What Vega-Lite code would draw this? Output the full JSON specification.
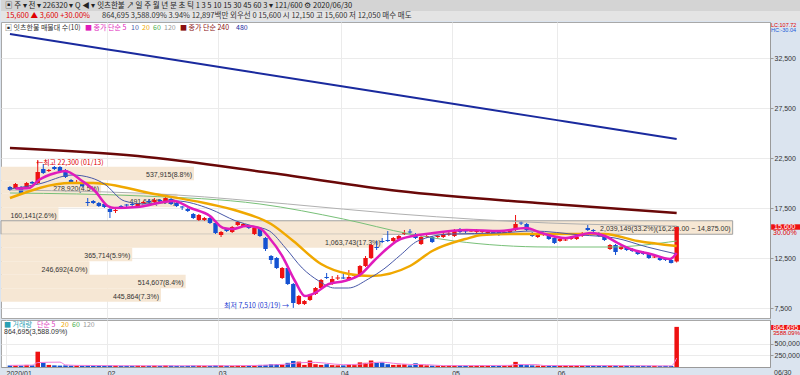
{
"$schema":"https://vega.github.io/schema/vega-lite/v6.json",
"background":"#dbe4ef",
"padding":0,
"autosize":{"type":"pad"},
"spacing":0,
"config":{"font":"Noto Sans CJK KR","view":{"fill":"white","stroke":"#a8a8a8"},
 "axis":{"labelFontSize":7,"labelColor":"#333","gridColor":"#ebebeb","domainColor":"#9a9a9a","tickColor":"#9a9a9a","labelFont":"Liberation Sans"},
 "axisY":{"labelOverlap":false}},
"datasets":{
"k":[
{"i":0,"o":19600,"h":19700,"l":19200,"c":19300,"v":30000},
{"i":1,"o":19500,"h":20000,"l":19400,"c":19900,"v":35000},
{"i":2,"o":19600,"h":19700,"l":18800,"c":18900,"v":30000},
{"i":3,"o":19500,"h":20100,"l":19400,"c":20000,"v":45000},
{"i":4,"o":20100,"h":20200,"l":19900,"c":19950,"v":35000},
{"i":5,"o":20000,"h":22300,"l":19900,"c":21100,"v":330000},
{"i":6,"o":21400,"h":21900,"l":20900,"c":21000,"v":90000},
{"i":7,"o":21200,"h":21400,"l":21100,"c":21300,"v":45000},
{"i":8,"o":21600,"h":21700,"l":21300,"c":21400,"v":35000},
{"i":9,"o":21600,"h":21700,"l":21100,"c":21200,"v":30000},
{"i":10,"o":21300,"h":21400,"l":20500,"c":20600,"v":35000},
{"i":11,"o":20300,"h":20400,"l":19900,"c":20000,"v":30000},
{"i":12,"o":20000,"h":20300,"l":19900,"c":20100,"v":30000},
{"i":13,"o":20000,"h":20100,"l":19600,"c":19700,"v":25000},
{"i":14,"o":18100,"h":18500,"l":17700,"c":18000,"v":35000},
{"i":15,"o":18200,"h":18300,"l":17900,"c":18000,"v":30000},
{"i":16,"o":18000,"h":18100,"l":17600,"c":17700,"v":30000},
{"i":17,"o":17900,"h":18000,"l":17500,"c":17600,"v":25000},
{"i":18,"o":17400,"h":17500,"l":16500,"c":17100,"v":35000},
{"i":19,"o":17200,"h":17500,"l":17000,"c":17300,"v":30000},
{"i":20,"o":17700,"h":17800,"l":17400,"c":17500,"v":25000},
{"i":21,"o":17850,"h":17900,"l":17600,"c":17750,"v":25000},
{"i":22,"o":17900,"h":18000,"l":17600,"c":17800,"v":25000},
{"i":23,"o":17700,"h":18000,"l":17600,"c":17900,"v":30000},
{"i":24,"o":18000,"h":18200,"l":17900,"c":18100,"v":25000},
{"i":25,"o":18200,"h":18400,"l":18000,"c":18100,"v":25000},
{"i":26,"o":18100,"h":18500,"l":18000,"c":18300,"v":30000},
{"i":27,"o":18300,"h":18400,"l":18100,"c":18200,"v":25000},
{"i":28,"o":18100,"h":18600,"l":18000,"c":18500,"v":35000},
{"i":29,"o":18400,"h":18500,"l":17800,"c":17900,"v":30000},
{"i":30,"o":18000,"h":18100,"l":17600,"c":17700,"v":25000},
{"i":31,"o":17650,"h":17700,"l":17300,"c":17550,"v":20000},
{"i":32,"o":17400,"h":17500,"l":17100,"c":17200,"v":25000},
{"i":33,"o":16900,"h":17000,"l":16400,"c":16500,"v":30000},
{"i":34,"o":16300,"h":16900,"l":16200,"c":16800,"v":30000},
{"i":35,"o":16300,"h":16600,"l":16200,"c":16500,"v":25000},
{"i":36,"o":16500,"h":16600,"l":15900,"c":16000,"v":25000},
{"i":37,"o":16000,"h":16100,"l":14900,"c":15000,"v":35000},
{"i":38,"o":14800,"h":15200,"l":14600,"c":15100,"v":35000},
{"i":39,"o":15400,"h":15500,"l":15100,"c":15200,"v":25000},
{"i":40,"o":15100,"h":15700,"l":15000,"c":15600,"v":25000},
{"i":41,"o":15800,"h":16200,"l":15700,"c":16100,"v":30000},
{"i":42,"o":15700,"h":16000,"l":15600,"c":15900,"v":25000},
{"i":43,"o":15700,"h":15800,"l":15400,"c":15500,"v":30000},
{"i":44,"o":14900,"h":15600,"l":14800,"c":15500,"v":35000},
{"i":45,"o":15400,"h":15500,"l":14600,"c":14700,"v":45000},
{"i":46,"o":14500,"h":14600,"l":13200,"c":13400,"v":45000},
{"i":47,"o":12700,"h":12800,"l":11900,"c":12300,"v":60000},
{"i":48,"o":12500,"h":12600,"l":11400,"c":11500,"v":60000},
{"i":49,"o":10500,"h":11600,"l":10400,"c":11500,"v":45000},
{"i":50,"o":11500,"h":11600,"l":9800,"c":9900,"v":90000},
{"i":51,"o":9900,"h":10000,"l":7510,"c":8000,"v":130000},
{"i":52,"o":7900,"h":8800,"l":7800,"c":8700,"v":115000},
{"i":53,"o":7900,"h":8300,"l":7800,"c":8200,"v":45000},
{"i":54,"o":8300,"h":8900,"l":8200,"c":8800,"v":140000},
{"i":55,"o":8900,"h":9600,"l":8800,"c":9500,"v":60000},
{"i":56,"o":9500,"h":10400,"l":9400,"c":10300,"v":45000},
{"i":57,"o":10600,"h":11000,"l":10400,"c":10500,"v":60000},
{"i":58,"o":9900,"h":10700,"l":9800,"c":10400,"v":40000},
{"i":59,"o":10450,"h":10800,"l":10300,"c":10550,"v":35000},
{"i":60,"o":10550,"h":11000,"l":10400,"c":10450,"v":35000},
{"i":61,"o":10300,"h":11300,"l":10200,"c":10600,"v":45000},
{"i":62,"o":10700,"h":10900,"l":10600,"c":10800,"v":40000},
{"i":63,"o":10700,"h":11800,"l":10600,"c":11700,"v":100000},
{"i":64,"o":11700,"h":12700,"l":11600,"c":12500,"v":90000},
{"i":65,"o":12500,"h":13900,"l":12400,"c":13800,"v":140000},
{"i":66,"o":13600,"h":14200,"l":13300,"c":13500,"v":90000},
{"i":67,"o":14200,"h":14500,"l":14000,"c":14100,"v":100000},
{"i":68,"o":14300,"h":15200,"l":14100,"c":14200,"v":60000},
{"i":69,"o":14200,"h":14600,"l":14100,"c":14500,"v":45000},
{"i":70,"o":14400,"h":14800,"l":14300,"c":14700,"v":50000},
{"i":71,"o":14900,"h":15300,"l":14800,"c":15000,"v":58000},
{"i":72,"o":15150,"h":15400,"l":14900,"c":15050,"v":35000},
{"i":73,"o":14900,"h":15000,"l":14400,"c":14500,"v":80000},
{"i":74,"o":13900,"h":14700,"l":13800,"c":14600,"v":50000},
{"i":75,"o":14600,"h":14900,"l":14500,"c":14700,"v":35000},
{"i":76,"o":14600,"h":14700,"l":14000,"c":14100,"v":30000},
{"i":77,"o":14600,"h":14800,"l":14500,"c":14700,"v":30000},
{"i":78,"o":14600,"h":15000,"l":14500,"c":14900,"v":25000},
{"i":79,"o":14850,"h":15100,"l":14700,"c":14950,"v":30000},
{"i":80,"o":14700,"h":15400,"l":14600,"c":15200,"v":35000},
{"i":81,"o":15400,"h":15500,"l":15000,"c":15100,"v":30000},
{"i":82,"o":15250,"h":15300,"l":15000,"c":15150,"v":30000},
{"i":83,"o":15150,"h":15400,"l":15100,"c":15250,"v":30000},
{"i":84,"o":15100,"h":15400,"l":15000,"c":15200,"v":30000},
{"i":85,"o":15100,"h":15300,"l":15000,"c":15200,"v":35000},
{"i":86,"o":15000,"h":15200,"l":14900,"c":15100,"v":30000},
{"i":87,"o":15200,"h":15300,"l":14800,"c":14900,"v":30000},
{"i":88,"o":15100,"h":15200,"l":14700,"c":14800,"v":25000},
{"i":89,"o":15000,"h":15200,"l":14900,"c":15100,"v":35000},
{"i":90,"o":15100,"h":15300,"l":15000,"c":15200,"v":40000},
{"i":91,"o":15300,"h":16800,"l":15200,"c":15900,"v":110000},
{"i":92,"o":16050,"h":16200,"l":15800,"c":15950,"v":45000},
{"i":93,"o":15900,"h":16000,"l":15200,"c":15300,"v":40000},
{"i":94,"o":15000,"h":15100,"l":14600,"c":14700,"v":35000},
{"i":95,"o":14600,"h":15000,"l":14500,"c":14900,"v":30000},
{"i":96,"o":14850,"h":15000,"l":14700,"c":14950,"v":30000},
{"i":97,"o":14900,"h":15000,"l":14300,"c":14400,"v":30000},
{"i":98,"o":14500,"h":14600,"l":13900,"c":14000,"v":35000},
{"i":99,"o":14200,"h":14500,"l":14100,"c":14400,"v":30000},
{"i":100,"o":14250,"h":14500,"l":14200,"c":14350,"v":35000},
{"i":101,"o":14400,"h":14600,"l":14300,"c":14500,"v":30000},
{"i":102,"o":14400,"h":14700,"l":14300,"c":14600,"v":30000},
{"i":103,"o":14700,"h":15100,"l":14600,"c":15000,"v":30000},
{"i":104,"o":15500,"h":15800,"l":15200,"c":15300,"v":35000},
{"i":105,"o":15300,"h":15400,"l":15100,"c":15200,"v":30000},
{"i":106,"o":15000,"h":15100,"l":14600,"c":14700,"v":30000},
{"i":107,"o":14600,"h":14700,"l":14200,"c":14300,"v":30000},
{"i":108,"o":13400,"h":13900,"l":13300,"c":13800,"v":35000},
{"i":109,"o":13800,"h":13900,"l":12800,"c":13100,"v":30000},
{"i":110,"o":13400,"h":13800,"l":13300,"c":13600,"v":25000},
{"i":111,"o":13600,"h":13700,"l":13200,"c":13300,"v":25000},
{"i":112,"o":13400,"h":13500,"l":13100,"c":13200,"v":25000},
{"i":113,"o":13200,"h":13300,"l":12800,"c":12900,"v":25000},
{"i":114,"o":13100,"h":13200,"l":12800,"c":12900,"v":25000},
{"i":115,"o":12900,"h":13000,"l":12400,"c":12500,"v":25000},
{"i":116,"o":12550,"h":12800,"l":12500,"c":12650,"v":25000},
{"i":117,"o":12500,"h":12600,"l":12200,"c":12300,"v":20000},
{"i":118,"o":12400,"h":12500,"l":12200,"c":12300,"v":25000},
{"i":119,"o":12300,"h":12400,"l":11950,"c":12000,"v":23444},
{"i":120,"o":12150,"h":15600,"l":12050,"c":15600,"v":864695}
],
"ma":[
{"s":"480","i":0,"v":34900},{"s":"480","i":20,"v":33150},{"s":"480","i":40,"v":31400},{"s":"480","i":60,"v":29650},{"s":"480","i":80,"v":27900},{"s":"480","i":100,"v":26150},{"s":"480","i":120,"v":24400},
{"s":"240","i":0,"v":23500},{"s":"240","i":23,"v":22700},{"s":"240","i":47,"v":21000},{"s":"240","i":70,"v":19200},{"s":"240","i":95,"v":18000},{"s":"240","i":120,"v":17000},
{"s":"120","i":0,"v":19300},{"s":"120","i":30,"v":18800},{"s":"120","i":50,"v":17900},{"s":"120","i":70,"v":16900},{"s":"120","i":97,"v":16000},{"s":"120","i":120,"v":15700},
{"s":"60","i":0,"v":19000},{"s":"60","i":24,"v":18700},{"s":"60","i":45,"v":17900},{"s":"60","i":60,"v":16400},{"s":"60","i":72,"v":14900},{"s":"60","i":80,"v":14200},{"s":"60","i":97,"v":13600},{"s":"60","i":108,"v":13600},{"s":"60","i":120,"v":14200},
{"s":"20","i":0,"v":18500},{"s":"20","i":11,"v":20000},{"s":"20","i":15,"v":20000},{"s":"20","i":26,"v":18900},{"s":"20","i":35,"v":18000},{"s":"20","i":41,"v":17200},{"s":"20","i":47,"v":15900},{"s":"20","i":51,"v":14200},{"s":"20","i":56,"v":11900},{"s":"20","i":61,"v":10900},{"s":"20","i":65,"v":10700},{"s":"20","i":72,"v":11700},{"s":"20","i":76,"v":13200},{"s":"20","i":82,"v":14400},{"s":"20","i":85,"v":14800},{"s":"20","i":91,"v":14900},{"s":"20","i":97,"v":14900},{"s":"20","i":107,"v":14900},{"s":"20","i":113,"v":14200},{"s":"20","i":120,"v":13700},
{"s":"10","i":0,"v":19400},{"s":"10","i":5.2,"v":19900},{"s":"10","i":11.2,"v":20800},{"s":"10","i":14.7,"v":20500},{"s":"10","i":17,"v":19900},{"s":"10","i":20.6,"v":18200},{"s":"10","i":24.2,"v":17900},{"s":"10","i":30,"v":18200},{"s":"10","i":36,"v":17400},{"s":"10","i":40.7,"v":16200},{"s":"10","i":43.7,"v":15700},{"s":"10","i":46.7,"v":15200},{"s":"10","i":49.6,"v":13500},{"s":"10","i":52.6,"v":11500},{"s":"10","i":55.6,"v":10200},{"s":"10","i":58.4,"v":9500},{"s":"10","i":60.9,"v":9500},{"s":"10","i":64.5,"v":10400},{"s":"10","i":67.3,"v":11400},{"s":"10","i":70.3,"v":12800},{"s":"10","i":73.4,"v":14200},{"s":"10","i":79.2,"v":14900},{"s":"10","i":88.1,"v":15000},{"s":"10","i":94,"v":15200},{"s":"10","i":102.8,"v":14800},{"s":"10","i":108.9,"v":14500},{"s":"10","i":114.7,"v":13600},{"s":"10","i":120,"v":12900},
{"s":"5","i":1,"v":19450},{"s":"5","i":3.4,"v":19500},{"s":"5","i":5.2,"v":20300},{"s":"5","i":8.2,"v":21000},{"s":"5","i":9.9,"v":21200},{"s":"5","i":13,"v":20200},{"s":"5","i":15.3,"v":19200},{"s":"5","i":17.6,"v":17700},{"s":"5","i":18.8,"v":17500},{"s":"5","i":22.9,"v":17600},{"s":"5","i":24.2,"v":17700},{"s":"5","i":27.7,"v":18100},{"s":"5","i":29.5,"v":18200},{"s":"5","i":32.5,"v":17500},{"s":"5","i":36,"v":16700},{"s":"5","i":38.4,"v":15500},{"s":"5","i":40.1,"v":15400},{"s":"5","i":42.5,"v":15700},{"s":"5","i":44.9,"v":15500},{"s":"5","i":46.7,"v":14500},{"s":"5","i":49,"v":12700},{"s":"5","i":51.3,"v":10200},{"s":"5","i":53.1,"v":8700},{"s":"5","i":54.9,"v":9000},{"s":"5","i":57.4,"v":9900},{"s":"5","i":60.2,"v":10200},{"s":"5","i":63.2,"v":10900},{"s":"5","i":65.5,"v":12200},{"s":"5","i":68,"v":13500},{"s":"5","i":70.3,"v":14400},{"s":"5","i":76.2,"v":15000},{"s":"5","i":82.2,"v":15300},{"s":"5","i":88.1,"v":15200},{"s":"5","i":92.9,"v":15500},{"s":"5","i":95.7,"v":15000},{"s":"5","i":100,"v":14500},{"s":"5","i":104.6,"v":15000},{"s":"5","i":107.1,"v":14700},{"s":"5","i":109.4,"v":14000},{"s":"5","i":111.7,"v":13400},{"s":"5","i":115.3,"v":12900},{"s":"5","i":118.8,"v":12400},{"s":"5","i":120,"v":13000}
],
"vma":[
{"i":0,"v":35000},{"i":4,"v":40000},{"i":5,"v":95000},{"i":9,"v":105000},{"i":10,"v":45000},{"i":12,"v":35000},{"i":20,"v":28000},{"i":30,"v":27000},{"i":40,"v":28000},{"i":45,"v":35000},{"i":48,"v":50000},{"i":50,"v":62000},{"i":52,"v":90000},{"i":55,"v":100000},{"i":57,"v":80000},{"i":60,"v":50000},{"i":63,"v":60000},{"i":65,"v":90000},{"i":67,"v":105000},{"i":69,"v":80000},{"i":72,"v":55000},{"i":75,"v":50000},{"i":78,"v":30000},{"i":85,"v":31000},{"i":90,"v":35000},{"i":91,"v":55000},{"i":95,"v":50000},{"i":96,"v":32000},{"i":110,"v":30000},{"i":119,"v":24000},{"i":120,"v":190000}
],
"prof":[
{"hi":21625,"lo":20275,"mid":20950,"vol":537915,"label":"537,915(8.8%)"},
{"hi":20275,"lo":18925,"mid":19600,"vol":278920,"label":"278,920(4.5%)"},
{"hi":18925,"lo":17575,"mid":18250,"vol":491640,"label":"491,640(8.0%)"},
{"hi":17575,"lo":16225,"mid":16900,"vol":160141,"label":"160,141(2.6%)"},
{"hi":16225,"lo":14875,"mid":15550,"vol":2039149,"label":"2,039,149(33.2%)(16,225.00 ~ 14,875.00)"},
{"hi":14875,"lo":13525,"mid":14200,"vol":1063743,"label":"1,063,743(17.3%)"},
{"hi":13525,"lo":12175,"mid":12850,"vol":365714,"label":"365,714(5.9%)"},
{"hi":12175,"lo":10825,"mid":11500,"vol":246692,"label":"246,692(4.0%)"},
{"hi":10825,"lo":9475,"mid":10150,"vol":514607,"label":"514,607(8.4%)"},
{"hi":9475,"lo":8125,"mid":8800,"vol":445864,"label":"445,864(7.3%)"}
],
"one":[{"n":1}]
},
"vconcat":[
{"width":800,"height":11,"view":{"fill":"#d4d4d4","stroke":null},
 "data":{"values":[{"t":"▣ 주 ▾ 전 ▾ 226320 ▾ Q ◀ ▾ 잇츠한불 ↗ 일 주 월 년 분 초 틱  1  3  5  10  15  30  45  60   3 ▾   121/600  ⚙  2020/06/30"}]},
 "mark":{"type":"text","align":"left","baseline":"middle","fontSize":7.5,"color":"#222","dx":4},
 "encoding":{"x":{"datum":0,"type":"quantitative","scale":{"domain":[0,1]},"axis":null},"text":{"field":"t"}}},
{"width":800,"height":10,"view":{"fill":"#e4e4e4","stroke":null},
 "layer":[
 {"data":{"values":[{"t":"15,600 ▲ 3,600 +30.00%"}]},
  "mark":{"type":"text","align":"left","baseline":"middle","fontSize":7.5,"color":"#e00000","dx":5},
  "encoding":{"x":{"datum":0,"type":"quantitative","scale":{"domain":[0,1]},"axis":null},"text":{"field":"t"}}},
 {"data":{"values":[{"t":"864,695  3,588.09%  3.94%  12,897백만  외우선  0   15,600 시 12,150 고 15,600 저 12,050   매수  매도"}]},
  "mark":{"type":"text","align":"left","baseline":"middle","fontSize":7.5,"color":"#333","dx":101},
  "encoding":{"x":{"datum":0,"type":"quantitative","scale":{"domain":[0,1]},"axis":null},"text":{"field":"t"}}}
 ]},
{"width":769,"height":296,
 "resolve":{"scale":{"x":"independent"}},
 "layer":[
  {"data":{"name":"prof"},
   "layer":[
    {"mark":{"type":"rect","color":"#f6e7d4"},
     "encoding":{
      "x":{"field":"vol","type":"quantitative","scale":{"domain":[0,2143200],"nice":false},"axis":null},
      "x2":{"datum":0},
      "y":{"field":"hi","type":"quantitative","scale":{"domain":[6500,36100],"nice":false,"zero":false},"title":null,
           "axis":{"orient":"right","values":[7500,10000,12500,15000,17500,20000,22500,25000,27500,30000,32500],"grid":true,"tickSize":3,"labelPadding":1,"labelOverlap":false,
             "labelExpr":"datum.value == 15000 ? '' : format(datum.value, ',')"}},
      "y2":{"field":"lo"},
      "stroke":{"condition":{"test":"datum.vol > 2000000","value":"#a0a0a0"},"value":null}}},
    {"mark":{"type":"text","align":"right","baseline":"middle","fontSize":7,"color":"#333","dx":-2,"dy":1.5,"font":"Liberation Sans"},
     "encoding":{
      "x":{"field":"vol","type":"quantitative","scale":{"domain":[0,2143200],"nice":false},"axis":null},
      "y":{"field":"mid","type":"quantitative","scale":{"domain":[6500,36100],"nice":false,"zero":false},"title":null},
      "text":{"field":"label"}}}
   ]},
  {"encoding":{"x":{"field":"i","type":"quantitative","scale":{"domain":[-0.71,135.9],"nice":false,"zero":false},"title":null,
     "axis":{"values":[17.5,37.5,59.5,79.5,98.5],"grid":true,"labels":false,"ticks":false,"domain":false}}},
   "layer":[
    {"data":{"name":"k"},"mark":{"type":"rule","strokeWidth":1},
     "encoding":{"y":{"field":"l","type":"quantitative","scale":{"domain":[6500,36100],"nice":false,"zero":false},"title":null},"y2":{"field":"h"},
      "color":{"condition":{"test":"datum.c >= datum.o","value":"#ee1111"},"value":"#1452d2"}}},
    {"data":{"name":"k"},"mark":{"type":"bar","size":4.4},
     "encoding":{"y":{"field":"o","type":"quantitative","scale":{"domain":[6500,36100],"nice":false,"zero":false},"title":null},"y2":{"field":"c"},
      "color":{"condition":{"test":"datum.c >= datum.o","value":"#ee1111"},"value":"#1452d2"}}},
    {"data":{"name":"ma"},"transform":[{"filter":"datum.s == '480'"}],"mark":{"type":"line","color":"#1a2a9e","strokeWidth":2,"interpolate":"monotone"},
     "encoding":{"y":{"field":"v","type":"quantitative","scale":{"domain":[6500,36100],"nice":false,"zero":false},"title":null}}},
    {"data":{"name":"ma"},"transform":[{"filter":"datum.s == '240'"}],"mark":{"type":"line","color":"#6a0808","strokeWidth":2.5,"interpolate":"monotone"},
     "encoding":{"y":{"field":"v","type":"quantitative","scale":{"domain":[6500,36100],"nice":false,"zero":false},"title":null}}},
    {"data":{"name":"ma"},"transform":[{"filter":"datum.s == '120'"}],"mark":{"type":"line","color":"#b0b0b0","strokeWidth":1,"interpolate":"monotone"},
     "encoding":{"y":{"field":"v","type":"quantitative","scale":{"domain":[6500,36100],"nice":false,"zero":false},"title":null}}},
    {"data":{"name":"ma"},"transform":[{"filter":"datum.s == '60'"}],"mark":{"type":"line","color":"#78c078","strokeWidth":1,"interpolate":"monotone"},
     "encoding":{"y":{"field":"v","type":"quantitative","scale":{"domain":[6500,36100],"nice":false,"zero":false},"title":null}}},
    {"data":{"name":"ma"},"transform":[{"filter":"datum.s == '20'"}],"mark":{"type":"line","color":"#f0a800","strokeWidth":2.5,"interpolate":"monotone"},
     "encoding":{"y":{"field":"v","type":"quantitative","scale":{"domain":[6500,36100],"nice":false,"zero":false},"title":null}}},
    {"data":{"name":"ma"},"transform":[{"filter":"datum.s == '10'"}],"mark":{"type":"line","color":"#4858a8","strokeWidth":1,"interpolate":"monotone"},
     "encoding":{"y":{"field":"v","type":"quantitative","scale":{"domain":[6500,36100],"nice":false,"zero":false},"title":null}}},
    {"data":{"name":"ma"},"transform":[{"filter":"datum.s == '5'"}],"mark":{"type":"line","color":"#e01cbc","strokeWidth":2.5,"interpolate":"monotone"},
     "encoding":{"y":{"field":"v","type":"quantitative","scale":{"domain":[6500,36100],"nice":false,"zero":false},"title":null}}}
   ]},
  {"data":{"name":"one"},
   "layer":[
    {"mark":{"type":"text","align":"left","baseline":"top","fontSize":7,"color":"#333","dx":4,"dy":2},
     "encoding":{"x":{"datum":-0.71,"type":"quantitative","scale":{"domain":[-0.71,135.9],"nice":false,"zero":false},"axis":null},"y":{"datum":36100,"type":"quantitative","scale":{"domain":[6500,36100],"nice":false,"zero":false},"title":null},"text":{"value":"▣ 잇츠한불 매물대 수(10)"}}},
    {"mark":{"type":"text","align":"left","baseline":"top","fontSize":7,"color":"#e01cbc","dx":84,"dy":2},
     "encoding":{"x":{"datum":-0.71,"type":"quantitative","scale":{"domain":[-0.71,135.9],"nice":false,"zero":false},"axis":null},"y":{"datum":36100,"type":"quantitative","scale":{"domain":[6500,36100],"nice":false,"zero":false},"title":null},"text":{"value":"■ 종가 단순 5"}}},
    {"mark":{"type":"text","align":"left","baseline":"top","fontSize":7,"color":"#4858a8","dx":130,"dy":2},
     "encoding":{"x":{"datum":-0.71,"type":"quantitative","scale":{"domain":[-0.71,135.9],"nice":false,"zero":false},"axis":null},"y":{"datum":36100,"type":"quantitative","scale":{"domain":[6500,36100],"nice":false,"zero":false},"title":null},"text":{"value":"10"}}},
    {"mark":{"type":"text","align":"left","baseline":"top","fontSize":7,"color":"#f0a800","dx":141,"dy":2},
     "encoding":{"x":{"datum":-0.71,"type":"quantitative","scale":{"domain":[-0.71,135.9],"nice":false,"zero":false},"axis":null},"y":{"datum":36100,"type":"quantitative","scale":{"domain":[6500,36100],"nice":false,"zero":false},"title":null},"text":{"value":"20"}}},
    {"mark":{"type":"text","align":"left","baseline":"top","fontSize":7,"color":"#4caf50","dx":152,"dy":2},
     "encoding":{"x":{"datum":-0.71,"type":"quantitative","scale":{"domain":[-0.71,135.9],"nice":false,"zero":false},"axis":null},"y":{"datum":36100,"type":"quantitative","scale":{"domain":[6500,36100],"nice":false,"zero":false},"title":null},"text":{"value":"60"}}},
    {"mark":{"type":"text","align":"left","baseline":"top","fontSize":7,"color":"#999","dx":163,"dy":2},
     "encoding":{"x":{"datum":-0.71,"type":"quantitative","scale":{"domain":[-0.71,135.9],"nice":false,"zero":false},"axis":null},"y":{"datum":36100,"type":"quantitative","scale":{"domain":[6500,36100],"nice":false,"zero":false},"title":null},"text":{"value":"120"}}},
    {"mark":{"type":"text","align":"left","baseline":"top","fontSize":7,"color":"#8a1010","dx":179,"dy":2},
     "encoding":{"x":{"datum":-0.71,"type":"quantitative","scale":{"domain":[-0.71,135.9],"nice":false,"zero":false},"axis":null},"y":{"datum":36100,"type":"quantitative","scale":{"domain":[6500,36100],"nice":false,"zero":false},"title":null},"text":{"value":"■ 종가 단순 240"}}},
    {"mark":{"type":"text","align":"left","baseline":"top","fontSize":7,"color":"#1a2a9e","dx":235,"dy":2},
     "encoding":{"x":{"datum":-0.71,"type":"quantitative","scale":{"domain":[-0.71,135.9],"nice":false,"zero":false},"axis":null},"y":{"datum":36100,"type":"quantitative","scale":{"domain":[6500,36100],"nice":false,"zero":false},"title":null},"text":{"value":"480"}}},
    {"mark":{"type":"text","align":"left","baseline":"middle","fontSize":7,"color":"#e00000","dx":3,"dy":3},
     "encoding":{"x":{"datum":5,"type":"quantitative","scale":{"domain":[-0.71,135.9],"nice":false,"zero":false},"axis":null},"y":{"datum":22300,"type":"quantitative","scale":{"domain":[6500,36100],"nice":false,"zero":false},"title":null},"text":{"value":"←최고 22,300 (01/13)"}}},
    {"mark":{"type":"text","align":"right","baseline":"middle","fontSize":7,"color":"#1a3ad0","dx":-3,"dy":-2},
     "encoding":{"x":{"datum":51,"type":"quantitative","scale":{"domain":[-0.71,135.9],"nice":false,"zero":false},"axis":null},"y":{"datum":7510,"type":"quantitative","scale":{"domain":[6500,36100],"nice":false,"zero":false},"title":null},"text":{"value":"최저 7,510 (03/19) →"}}},
    {"mark":{"type":"rect","color":"#ee1111"},
     "encoding":{"x":{"datum":136.1,"type":"quantitative","scale":{"domain":[-0.71,135.9],"nice":false,"zero":false},"axis":null},"x2":{"datum":141.5},"y":{"datum":15870,"type":"quantitative","scale":{"domain":[6500,36100],"nice":false,"zero":false},"title":null},"y2":{"datum":15330}}},
    {"mark":{"type":"text","align":"left","baseline":"middle","fontSize":7,"color":"white","dx":4,"font":"Liberation Sans"},
     "encoding":{"x":{"datum":135.9,"type":"quantitative","scale":{"domain":[-0.71,135.9],"nice":false,"zero":false},"axis":null},"y":{"datum":15600,"type":"quantitative","scale":{"domain":[6500,36100],"nice":false,"zero":false},"title":null},"text":{"value":"15,600"}}},
    {"mark":{"type":"text","align":"left","baseline":"middle","fontSize":7,"color":"#e00000","dx":3,"font":"Liberation Sans"},
     "encoding":{"x":{"datum":135.9,"type":"quantitative","scale":{"domain":[-0.71,135.9],"nice":false,"zero":false},"axis":null},"y":{"datum":15050,"type":"quantitative","scale":{"domain":[6500,36100],"nice":false,"zero":false},"title":null},"text":{"value":"30.00%"}}},
    {"mark":{"type":"text","align":"left","baseline":"top","fontSize":5.5,"color":"#e00000","dx":1,"dy":0.5,"font":"Liberation Sans"},
     "encoding":{"x":{"datum":135.9,"type":"quantitative","scale":{"domain":[-0.71,135.9],"nice":false,"zero":false},"axis":null},"y":{"datum":36100,"type":"quantitative","scale":{"domain":[6500,36100],"nice":false,"zero":false},"title":null},"text":{"value":"LC:107.72"}}},
    {"mark":{"type":"text","align":"left","baseline":"top","fontSize":5.5,"color":"#1a5ad8","dx":1,"dy":6,"font":"Liberation Sans"},
     "encoding":{"x":{"datum":135.9,"type":"quantitative","scale":{"domain":[-0.71,135.9],"nice":false,"zero":false},"axis":null},"y":{"datum":36100,"type":"quantitative","scale":{"domain":[6500,36100],"nice":false,"zero":false},"title":null},"text":{"value":"HC:-30.04"}}}
   ]}
 ]},
{"width":769,"height":47,
 "resolve":{"scale":{"x":"independent"}},
 "layer":[
  {"encoding":{"x":{"field":"i","type":"quantitative","scale":{"domain":[-0.71,135.9],"nice":false,"zero":false},"title":null,
    "axis":{"values":[-0.71,17.5,37.5,59.5,79.5,98.5],"grid":true,"ticks":false,"labelAlign":"left","labelPadding":2,"labelFontSize":7,"labelFlush":false,
      "labelExpr":"datum.value < 0 ? '2020/01' : datum.value < 20 ? '02' : datum.value < 40 ? '03' : datum.value < 60 ? '04' : datum.value < 80 ? '05' : '06'"}}},
   "layer":[
    {"data":{"name":"k"},"mark":{"type":"bar","size":4.5},
     "encoding":{"y":{"field":"v","type":"quantitative","scale":{"domain":[0,1013000],"nice":false},"title":null,
       "axis":{"orient":"right","values":[250000,500000],"grid":true,"tickSize":3,"labelPadding":1,"labelOverlap":false,
         "labelExpr":"format(datum.value, ',')"}},
      "color":{"condition":{"test":"datum.c >= datum.o","value":"#ee1111"},"value":"#1452d2"}}},
    {"data":{"name":"vma"},"mark":{"type":"line","color":"#f07ad8","strokeWidth":1,"interpolate":"monotone"},
     "encoding":{"y":{"field":"v","type":"quantitative","scale":{"domain":[0,1013000],"nice":false},"title":null}}}
   ]},
  {"data":{"name":"one"},
   "layer":[
    {"mark":{"type":"text","align":"left","baseline":"top","fontSize":7,"color":"#2aa0b4","dx":3,"dy":1},
     "encoding":{"x":{"datum":-0.71,"type":"quantitative","scale":{"domain":[-0.71,135.9],"nice":false,"zero":false},"axis":null},"y":{"datum":1013000,"type":"quantitative","scale":{"domain":[0,1013000],"nice":false},"title":null},"text":{"value":"■ 거래량"}}},
    {"mark":{"type":"text","align":"left","baseline":"top","fontSize":7,"color":"#e040c0","dx":36,"dy":1},
     "encoding":{"x":{"datum":-0.71,"type":"quantitative","scale":{"domain":[-0.71,135.9],"nice":false,"zero":false},"axis":null},"y":{"datum":1013000,"type":"quantitative","scale":{"domain":[0,1013000],"nice":false},"title":null},"text":{"value":"단순 5"}}},
    {"mark":{"type":"text","align":"left","baseline":"top","fontSize":7,"color":"#f0a800","dx":60,"dy":1},
     "encoding":{"x":{"datum":-0.71,"type":"quantitative","scale":{"domain":[-0.71,135.9],"nice":false,"zero":false},"axis":null},"y":{"datum":1013000,"type":"quantitative","scale":{"domain":[0,1013000],"nice":false},"title":null},"text":{"value":"20"}}},
    {"mark":{"type":"text","align":"left","baseline":"top","fontSize":7,"color":"#4caf50","dx":71,"dy":1},
     "encoding":{"x":{"datum":-0.71,"type":"quantitative","scale":{"domain":[-0.71,135.9],"nice":false,"zero":false},"axis":null},"y":{"datum":1013000,"type":"quantitative","scale":{"domain":[0,1013000],"nice":false},"title":null},"text":{"value":"60"}}},
    {"mark":{"type":"text","align":"left","baseline":"top","fontSize":7,"color":"#999","dx":82,"dy":1},
     "encoding":{"x":{"datum":-0.71,"type":"quantitative","scale":{"domain":[-0.71,135.9],"nice":false,"zero":false},"axis":null},"y":{"datum":1013000,"type":"quantitative","scale":{"domain":[0,1013000],"nice":false},"title":null},"text":{"value":"120"}}},
    {"mark":{"type":"text","align":"left","baseline":"top","fontSize":7,"color":"#333","dx":3,"dy":8,"font":"Liberation Sans"},
     "encoding":{"x":{"datum":-0.71,"type":"quantitative","scale":{"domain":[-0.71,135.9],"nice":false,"zero":false},"axis":null},"y":{"datum":1013000,"type":"quantitative","scale":{"domain":[0,1013000],"nice":false},"title":null},"text":{"value":"864,695(3,588.09%)"}}},
    {"mark":{"type":"rect","color":"#ee1111"},
     "encoding":{"x":{"datum":136.1,"type":"quantitative","scale":{"domain":[-0.71,135.9],"nice":false,"zero":false},"axis":null},"x2":{"datum":141.5},"y":{"datum":905000,"type":"quantitative","scale":{"domain":[0,1013000],"nice":false},"title":null},"y2":{"datum":797000}}},
    {"mark":{"type":"text","align":"left","baseline":"middle","fontSize":7,"color":"white","dx":3,"font":"Liberation Sans"},
     "encoding":{"x":{"datum":135.9,"type":"quantitative","scale":{"domain":[-0.71,135.9],"nice":false,"zero":false},"axis":null},"y":{"datum":851000,"type":"quantitative","scale":{"domain":[0,1013000],"nice":false},"title":null},"text":{"value":"864,695"}}},
    {"mark":{"type":"text","align":"left","baseline":"middle","fontSize":6,"color":"#e00000","dx":3,"font":"Liberation Sans"},
     "encoding":{"x":{"datum":135.9,"type":"quantitative","scale":{"domain":[-0.71,135.9],"nice":false,"zero":false},"axis":null},"y":{"datum":735000,"type":"quantitative","scale":{"domain":[0,1013000],"nice":false},"title":null},"text":{"value":"3588.09%"}}},
    {"mark":{"type":"text","align":"left","baseline":"middle","fontSize":7,"color":"#333","dx":4,"dy":5.5,"font":"Liberation Sans"},
     "encoding":{"x":{"datum":135.9,"type":"quantitative","scale":{"domain":[-0.71,135.9],"nice":false,"zero":false},"axis":null},"y":{"datum":0,"type":"quantitative","scale":{"domain":[0,1013000],"nice":false},"title":null},"text":{"value":"06/30"}}}
   ]}
 ]}
]
}
